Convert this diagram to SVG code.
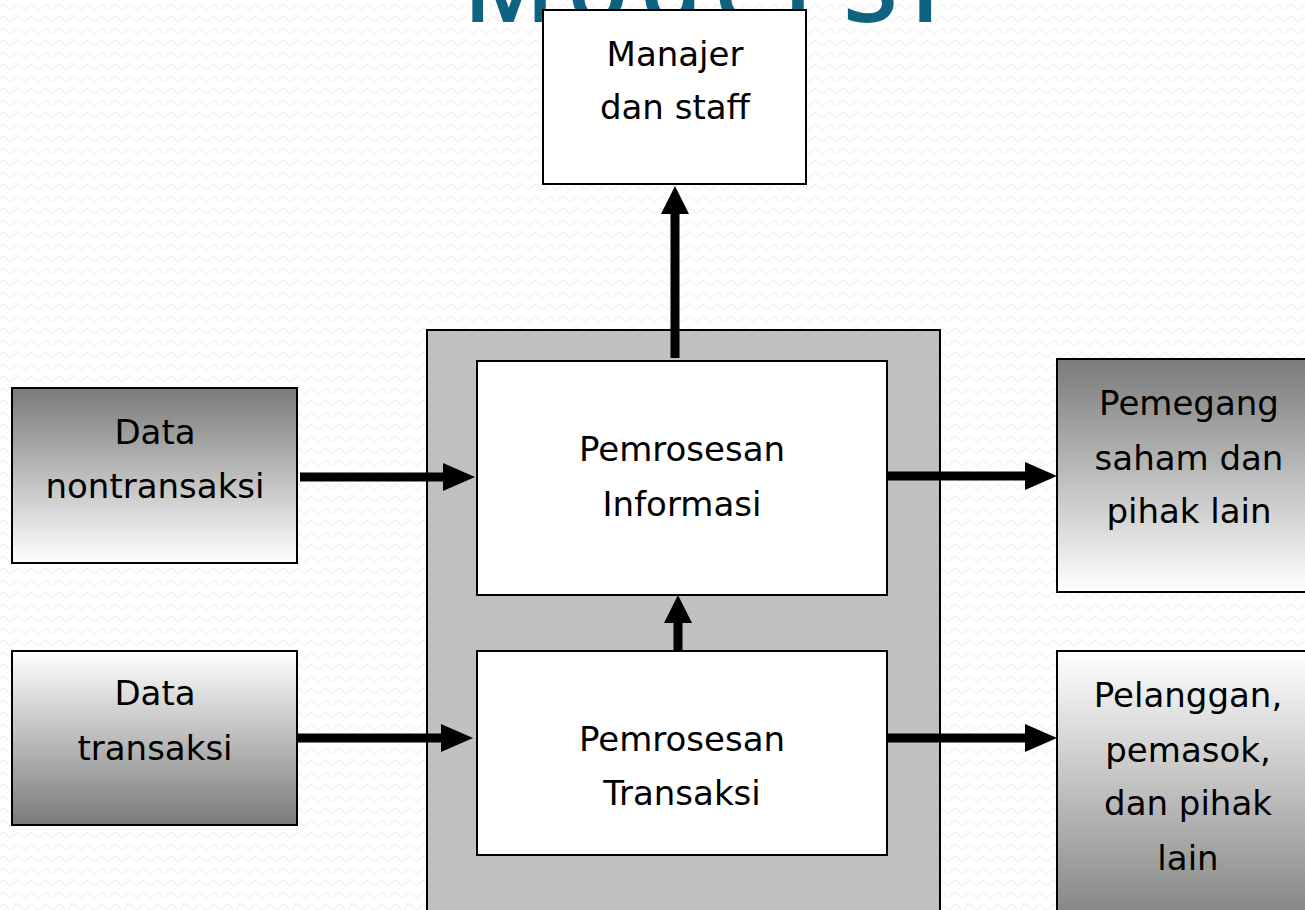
<svg xmlns="http://www.w3.org/2000/svg" width="1305" height="910" viewBox="0 0 1305 910">
<defs>
<pattern id="bg" width="14" height="12" patternUnits="userSpaceOnUse">
<path d="M0,7 Q3.5,2 7,7 T14,7" fill="none" stroke="#eeeeee" stroke-width="1.2"/>
</pattern>
<linearGradient id="darkTop" x1="0" y1="0" x2="0" y2="1">
<stop offset="0" stop-color="#7a7a7a"/>
<stop offset="1" stop-color="#ffffff"/>
</linearGradient>
<linearGradient id="darkBottom" x1="0" y1="0" x2="0" y2="1">
<stop offset="0" stop-color="#ffffff"/>
<stop offset="1" stop-color="#7a7a7a"/>
</linearGradient>
<marker id="ah" markerUnits="userSpaceOnUse" markerWidth="32" markerHeight="28" refX="0" refY="14" orient="auto">
<path d="M0,0 L32,14 L0,28 Z" fill="#000"/>
</marker>
<marker id="av" markerUnits="userSpaceOnUse" markerWidth="28" markerHeight="28" refX="0" refY="14" orient="auto">
<path d="M0,0 L28,14 L0,28 Z" fill="#000"/>
</marker>
</defs>
<style>
.box{stroke:#000;stroke-width:2}
.lbl{font-family:"DejaVu Sans",sans-serif;font-size:34px;fill:#000;text-anchor:middle}
.title{font-family:"Open Sans",sans-serif;font-size:100px;font-weight:600;fill:#0e6480}
.conn{stroke:#000;stroke-width:9;fill:none}
</style>
<rect width="1305" height="910" fill="#ffffff"/>
<rect width="1305" height="910" fill="url(#bg)"/>
<text class="title" y="22"><tspan x="463" letter-spacing="12">Model</tspan><tspan x="843">S</tspan><tspan x="910">I</tspan></text>

<g id="manajer">
<rect class="box" x="543" y="10" width="263" height="174" fill="#fff"/>
<text class="lbl" x="675" y="66">Manajer</text>
<text class="lbl" x="675" y="119">dan staff</text>
</g>

<g id="sistem">
<rect class="box" x="427" y="330" width="513" height="600" fill="#c0c0c0"/>
</g>

<g id="informasi">
<rect class="box" x="477" y="361" width="410" height="234" fill="#fff"/>
<text class="lbl" x="682" y="461">Pemrosesan</text>
<text class="lbl" x="682" y="516">Informasi</text>
</g>

<g id="transaksi">
<rect class="box" x="477" y="651" width="410" height="204" fill="#fff"/>
<text class="lbl" x="682" y="751">Pemrosesan</text>
<text class="lbl" x="682" y="805">Transaksi</text>
</g>

<g id="data-nontransaksi">
<rect class="box" x="12" y="388" width="285" height="175" fill="url(#darkTop)"/>
<text class="lbl" x="155" y="444">Data</text>
<text class="lbl" x="155" y="498">nontransaksi</text>
</g>

<g id="data-transaksi">
<rect class="box" x="12" y="651" width="285" height="174" fill="url(#darkBottom)"/>
<text class="lbl" x="155" y="705">Data</text>
<text class="lbl" x="155" y="760">transaksi</text>
</g>

<g id="pemegang">
<rect class="box" x="1057" y="359" width="270" height="233" fill="url(#darkTop)"/>
<text class="lbl" x="1189" y="415">Pemegang</text>
<text class="lbl" x="1189" y="470">saham dan</text>
<text class="lbl" x="1189" y="523">pihak lain</text>
</g>

<g id="pelanggan">
<rect class="box" x="1057" y="651" width="270" height="290" fill="url(#darkBottom)"/>
<text class="lbl" x="1188" y="707">Pelanggan,</text>
<text class="lbl" x="1188" y="762">pemasok,</text>
<text class="lbl" x="1188" y="815">dan pihak</text>
<text class="lbl" x="1188" y="870">lain</text>
</g>

<g id="connectors">
<line class="conn" x1="300" y1="477" x2="443" y2="477" marker-end="url(#ah)"/>
<line class="conn" x1="297" y1="738" x2="441" y2="738" marker-end="url(#ah)"/>
<line class="conn" x1="887" y1="476" x2="1025" y2="476" marker-end="url(#ah)"/>
<line class="conn" x1="887" y1="738" x2="1025" y2="738" marker-end="url(#ah)"/>
<line class="conn" x1="678" y1="651" x2="678" y2="623" marker-end="url(#av)"/>
<line class="conn" x1="675" y1="358" x2="675" y2="214" marker-end="url(#av)"/>
</g>
</svg>
